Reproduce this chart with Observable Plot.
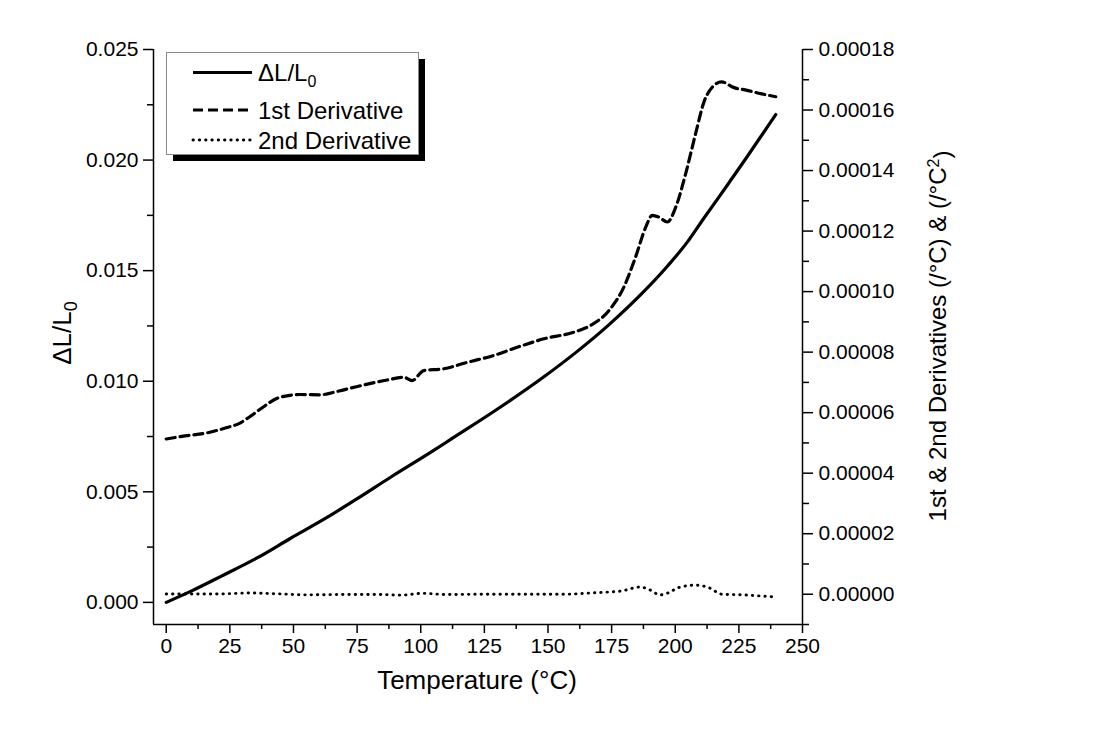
<!DOCTYPE html>
<html>
<head>
<meta charset="utf-8">
<script src="https://cdn.jsdelivr.net/npm/d3@7"></script>
<script src="https://cdn.jsdelivr.net/npm/@observablehq/plot@0.6"></script>
<style>
  html, body { margin: 0; padding: 0; background: #fff; }
  #chart { width: 1112px; height: 733px; }
</style>
</head>
<body>
<div id="chart"></div>
<script>
// ---- data ----
const tempSolid = [0, 10, 22.6, 35.7, 48.9, 62, 75.2, 88.3, 105.1, 111.9, 128.7, 148.4, 161.5, 174, 187.7, 196.9, 204.8, 211.3, 219.2, 228.3, 239.5];
const dLL0 = [0, 0.00052, 0.00124, 0.00201, 0.0029, 0.00376, 0.0047, 0.00567, 0.00687, 0.00738, 0.00863, 0.0102, 0.01135, 0.01256, 0.01406, 0.0152, 0.0163, 0.01738, 0.01866, 0.02016, 0.02206];

const tempD1 = [0, 8.1, 14.7, 23.9, 28.4, 32.4, 37, 44.8, 52.7, 60.6, 67.1, 76.3, 86.8, 93.3, 96.6, 101.2, 109, 118.2, 128.7, 137.9, 148.4, 160.2, 166.7, 173.9, 179.8, 184.4, 188.4, 191, 193.6, 196.9, 200.2, 204.1, 208, 211.3, 214.6, 218.2, 223.1, 228.3, 233.6, 239.5];
const deriv1 = [5.13e-5, 5.24e-5, 5.31e-5, 5.51e-5, 5.63e-5, 5.84e-5, 6.12e-5, 6.51e-5, 6.60e-5, 6.59e-5, 6.70e-5, 6.89e-5, 7.08e-5, 7.17e-5, 7.06e-5, 7.39e-5, 7.45e-5, 7.66e-5, 7.89e-5, 8.16e-5, 8.44e-5, 8.66e-5, 8.88e-5, 9.37e-5, 10.15e-5, 11.14e-5, 12.13e-5, 12.52e-5, 12.46e-5, 12.30e-5, 12.79e-5, 13.90e-5, 15.22e-5, 16.27e-5, 16.76e-5, 16.93e-5, 16.74e-5, 16.65e-5, 16.54e-5, 16.44e-5];

const tempD2 = [0, 10, 20, 33, 45, 55.4, 70, 85, 92, 100.8, 110, 125, 140, 155.3, 168.4, 179, 186.2, 190.1, 194, 197.4, 201.3, 207.9, 213.1, 218.4, 226.3, 234.1, 239.5];
const deriv2 = [0.1e-6, 0.1e-6, 0.1e-6, 0.4e-6, 0.1e-6, -0.2e-6, -0.1e-6, -0.1e-6, -0.3e-6, 0.3e-6, -0.1e-6, 0, 0, 0, 0.5e-6, 1.1e-6, 2.4e-6, 1.4e-6, -0.2e-6, 0.5e-6, 2.2e-6, 3.0e-6, 2.2e-6, 0, -0.2e-6, -0.6e-6, -0.9e-6];

// ---- ticks ----
const xMajor = [0, 25, 50, 75, 100, 125, 150, 175, 200, 225, 250];
const xMinor = [12.5, 37.5, 62.5, 87.5, 112.5, 137.5, 162.5, 187.5, 212.5, 237.5];
const yMajor = [0, 0.005, 0.010, 0.015, 0.020, 0.025];
const yMinor = [0.0025, 0.0075, 0.0125, 0.0175, 0.0225];
const rMajor = [0, 0.00002, 0.00004, 0.00006, 0.00008, 0.00010, 0.00012, 0.00014, 0.00016, 0.00018];
const rMinor = [-0.00001, 0.00001, 0.00003, 0.00005, 0.00007, 0.00009, 0.00011, 0.00013, 0.00015, 0.00017];

const legendLabels = ["1st Derivative", "2nd Derivative"];

// right-axis values mapped onto the left (primary) y scale
const toLeft = d3.scaleLinear().domain([-0.00001, 0.00018]).range([-0.001, 0.025]);
const fmtRight = d => (Math.round(toLeft.invert(d) * 1e5) / 1e5).toFixed(5);

const curve = "monotone-x";
const axisStyle = {strokeWidth: 1.5, label: null};
const dotDash = "0.4,5.9";

const chart = Plot.plot({
  width: 1112,
  height: 733,
  marginLeft: 153,
  marginRight: 310,
  marginTop: 49,
  marginBottom: 109,
  x: {domain: [-5, 250]},
  y: {domain: [-0.001, 0.025]},
  style: {fontFamily: "'Liberation Sans', Arial, sans-serif", fontSize: "21px", color: "#000", background: "#fff", overflow: "visible"},
  marks: [
    Plot.ruleX([-5], {strokeWidth: 1.5}),
    Plot.ruleX([250], {strokeWidth: 1.5}),
    Plot.ruleY([-0.001], {strokeWidth: 1.5}),
    Plot.axisX(xMajor, {...axisStyle, tickSize: 9, tickPadding: 5, tickFormat: d => String(d)}),
    Plot.axisX(xMinor, {...axisStyle, tickSize: 5, tickFormat: () => ""}),
    Plot.axisY(yMajor, {...axisStyle, anchor: "left", tickSize: 10, tickPadding: 5, tickFormat: d => d.toFixed(3)}),
    Plot.axisY(yMinor, {...axisStyle, anchor: "left", tickSize: 6, tickFormat: () => ""}),
    Plot.axisY(rMajor.map(toLeft), {...axisStyle, anchor: "right", tickSize: 10, tickPadding: 6, tickFormat: fmtRight}),
    Plot.axisY(rMinor.map(toLeft), {...axisStyle, anchor: "right", tickSize: 6, tickFormat: () => ""}),
    Plot.line(tempD2.map((t, i) => [t, toLeft(deriv2[i])]), {stroke: "#000", strokeWidth: 2.9, strokeDasharray: dotDash, strokeLinecap: "round", curve}),
    Plot.line(tempD1.map((t, i) => [t, toLeft(deriv1[i])]), {stroke: "#000", strokeWidth: 3.2, strokeDasharray: "9,5", curve}),
    Plot.line(tempSolid.map((t, i) => [t, dLL0[i]]), {stroke: "#000", strokeWidth: 3.2, curve})
  ]
});

document.getElementById("chart").appendChild(chart);

const svg = d3.select(chart);
const font = "'Liberation Sans', Arial, sans-serif";

// x-axis title
svg.append("text")
  .attr("x", 477).attr("y", 689)
  .attr("text-anchor", "middle")
  .style("font-family", font).style("font-size", "26px")
  .text("Temperature (°C)");

// left axis title
const lt = svg.append("text")
  .attr("transform", "translate(71,333) rotate(-90)")
  .attr("text-anchor", "middle")
  .style("font-family", font).style("font-size", "26px");
lt.append("tspan").text("ΔL/L");
lt.append("tspan").attr("dy", "0.35em").style("font-size", "18px").text("0");

// right axis title
const rt = svg.append("text")
  .attr("transform", "translate(946,336) rotate(-90)")
  .attr("text-anchor", "middle")
  .style("font-family", font).style("font-size", "24px");
rt.append("tspan").text("1st & 2nd Derivatives (/°C) & (/°C");
rt.append("tspan").attr("dy", "-0.45em").style("font-size", "16px").text("2");
rt.append("tspan").attr("dy", "0.45em").text(")");

// legend
const lg = svg.append("g").attr("text-anchor", "start");
lg.append("rect").attr("x", 173).attr("y", 59).attr("width", 252).attr("height", 102).attr("fill", "#000");
lg.append("rect").attr("x", 166.5).attr("y", 52.5).attr("width", 252).attr("height", 102)
  .attr("fill", "#fff").attr("stroke", "#8a8a8a").attr("stroke-width", 1);
const ls = [
  {y: 72.5, dash: null, w: 3.2, cap: "butt"},
  {y: 110, dash: "10,5", w: 3.2, cap: "butt"},
  {y: 140, dash: dotDash, w: 2.9, cap: "round"}
];
ls.forEach(s => {
  lg.append("line").attr("x1", 193).attr("x2", 252).attr("y1", s.y).attr("y2", s.y)
    .attr("stroke", "#000").attr("stroke-width", s.w)
    .attr("stroke-linecap", s.cap)
    .attr("stroke-dasharray", s.dash);
});
const l0 = lg.append("text").attr("x", 258).attr("y", 81).attr("text-anchor", "start")
  .style("font-family", font).style("font-size", "24px");
l0.append("tspan").text("ΔL/L");
l0.append("tspan").attr("dy", "0.35em").style("font-size", "16px").text("0");
lg.append("text").attr("x", 258).attr("y", 118.5).attr("text-anchor", "start")
  .style("font-family", font).style("font-size", "24px").text(legendLabels[0]);
lg.append("text").attr("x", 258).attr("y", 148.5).attr("text-anchor", "start")
  .style("font-family", font).style("font-size", "24px").text(legendLabels[1]);
</script>
</body>
</html>
